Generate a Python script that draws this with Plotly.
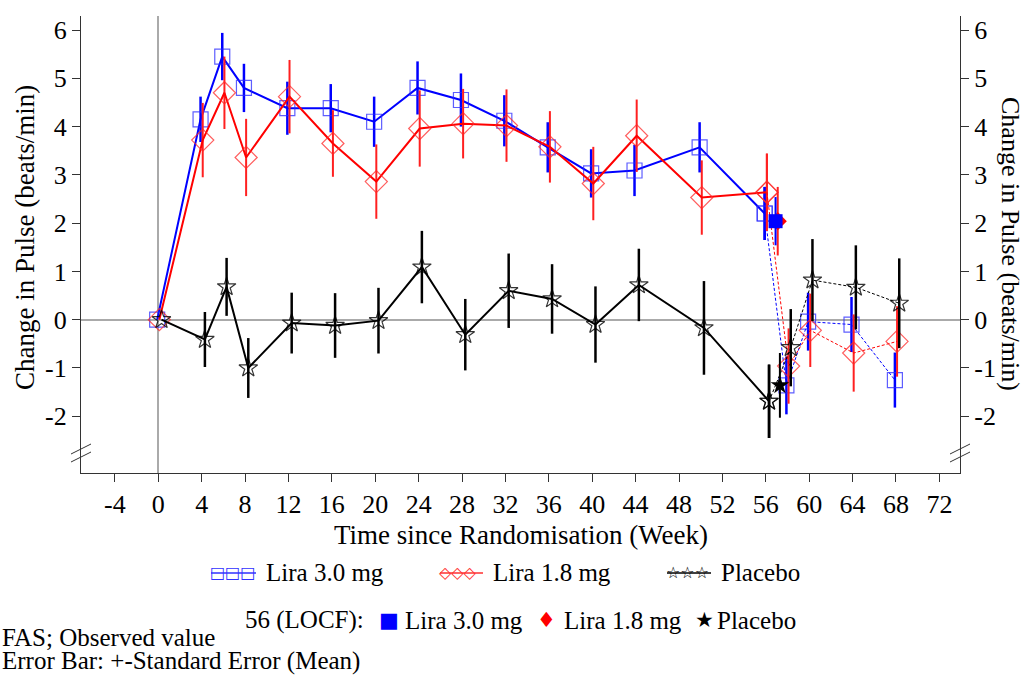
import plotly.graph_objects as go

# ---------------- data ----------------
weeks_main = [0, 4, 6, 8, 12, 16, 20, 24, 28, 32, 36, 40, 44, 50, 56]
weeks_fu = [56, 58, 60, 64, 68]
week_locf = 57

lira30 = [0, 4.15, 5.45, 4.80, 4.38, 4.38, 4.10, 4.80, 4.55, 4.12, 3.57, 3.03, 3.09, 3.57, 2.20]
lira30_se = [0, 0.47, 0.49, 0.50, 0.55, 0.50, 0.52, 0.55, 0.55, 0.53, 0.52, 0.50, 0.53, 0.52, 0.55]
lira30_fu = [2.20, -1.36, -0.04, -0.10, -1.25]
lira30_fu_se = [0.55, 0.60, 0.60, 0.57, 0.57]

lira18 = [0, 3.72, 4.70, 3.36, 4.62, 3.65, 2.86, 3.96, 4.06, 4.02, 3.58, 2.82, 3.81, 2.53, 2.64]
lira18_se = [0, 0.77, 0.75, 0.80, 0.76, 0.69, 0.77, 0.79, 0.72, 0.75, 0.74, 0.76, 0.75, 0.77, 0.80]
lira18_fu = [2.64, -0.96, -0.22, -0.69, -0.45]
lira18_fu_se = [0.80, 0.78, 0.76, 0.80, 0.73]

placebo = [0, -0.41, 0.68, -1.00, -0.07, -0.12, -0.02, 1.09, -0.31, 0.60, 0.43, -0.10, 0.72, -0.17, -1.69]
placebo_se = [0, 0.57, 0.60, 0.62, 0.63, 0.67, 0.68, 0.75, 0.74, 0.77, 0.72, 0.79, 0.75, 0.97, 0.76]
placebo_fu = [-1.69, -0.58, 0.82, 0.67, 0.34]
placebo_fu_se = [0.76, 0.80, 0.85, 0.87, 0.93]

locf_vals = [2.04, 2.04, -1.36]
locf_se = [0.50, 0.71, 0.67]

x_ticks = list(range(-4, 73, 4))
y_ticks = list(range(-2, 7))

# ---------------- style ----------------
SERIF = "Liberation Serif, Times New Roman, Times, serif"
SYM = "DejaVu Sans"
FS = 26
X_RANGE = [-7.12, 73.9]
Y_RANGE = [-3.175, 6.29]

series = [
    dict(name="Lira 3.0 mg", y=lira30, se=lira30_se, yf=lira30_fu, sef=lira30_fu_se,
         col="#0000ff", ecol="#0000ff", mcol="rgba(40,40,255,0.75)", sym="square-open", fsym="square",
         ms=15, off=-0.1, ew=2.5),
    dict(name="Lira 1.8 mg", y=lira18, se=lira18_se, yf=lira18_fu, sef=lira18_fu_se,
         col="#ff0000", ecol="#ff2020", mcol="rgba(255,40,40,0.75)", sym="diamond-open", fsym="diamond",
         ms=17, off=0.1, ew=2),
    dict(name="Placebo", y=placebo, se=placebo_se, yf=placebo_fu, sef=placebo_fu_se,
         col="#000000", ecol="#000000", mcol="rgba(0,0,0,0.8)", sym="star-open", fsym="star",
         ms=14, off=0.3, ew=2.5),
]

fig = go.Figure()

for i, s in enumerate(series):
    xm = [w + s["off"] for w in weeks_main]
    xf = [w + s["off"] for w in weeks_fu]
    fig.add_trace(go.Scatter(
        x=xm, y=s["y"], mode="lines+markers", name=s["name"], showlegend=False,
        line=dict(color=s["col"], width=2),
        marker=dict(symbol=s["sym"], size=s["ms"], color=s["mcol"], line=dict(width=1.2)),
        error_y=dict(type="data", array=s["se"], color=s["ecol"], thickness=s["ew"], width=0),
    ))
    fig.add_trace(go.Scatter(
        x=xf, y=s["yf"], mode="lines+markers", showlegend=False,
        line=dict(color=s["col"], width=1, dash="3px,2px"),
        marker=dict(symbol=s["sym"], size=s["ms"], color=s["mcol"], line=dict(width=1.2)),
        error_y=dict(type="data", array=s["sef"], color=s["ecol"], thickness=s["ew"], width=0),
    ))

# LOCF points: red first, then blue on top, then black
for i in (1, 0, 2):
    s = series[i]
    fig.add_trace(go.Scatter(
        x=[week_locf + s["off"]], y=[locf_vals[i]], mode="markers", showlegend=False,
        marker=dict(symbol=s["fsym"], size=14, color=s["col"], line=dict(width=0)),
        error_y=dict(type="data", array=[locf_se[i]], color=s["ecol"], thickness=2, width=0),
    ))

# invisible trace on the right axis so it is drawn
fig.add_trace(go.Scatter(x=[0], y=[0], yaxis="y2", mode="markers",
                         marker=dict(opacity=0), showlegend=False, hoverinfo="skip"))

L, R, T, B = 81, 960, 16, 473
W, H = R - L, B - T


def px(x):
    return (x - L) / W


def py(y):
    return (B - y) / H


axis_common = dict(ticks="outside", ticklen=8, tickwidth=1, tickcolor="#333",
                   showline=True, linecolor="#333", linewidth=1.2, showgrid=False,
                   tickfont=dict(family=SERIF, size=FS))

fig.update_layout(
    width=1026, height=675,
    margin=dict(l=L, r=1026 - R, t=T, b=675 - B),
    paper_bgcolor="white", plot_bgcolor="white",
    font=dict(family=SERIF, size=FS, color="black"),
    showlegend=False,
    xaxis=dict(range=X_RANGE, tickvals=x_ticks, ticktext=[str(t) for t in x_ticks],
               zeroline=True, zerolinecolor="#aaaaaa", zerolinewidth=1.5, **axis_common),
    yaxis=dict(range=Y_RANGE, tickvals=y_ticks, ticktext=[str(t) for t in y_ticks],
               zeroline=True, zerolinecolor="#aaaaaa", zerolinewidth=1.5, **axis_common),
    yaxis2=dict(range=Y_RANGE, tickvals=y_ticks, ticktext=[str(t) for t in y_ticks],
                overlaying="y", side="right", zeroline=False, **axis_common),
)

TS = 27
ann = []
# axis titles
ann.append(dict(text="Change in Pulse (beats/min)", x=px(25), y=py(238), xref="paper", yref="paper",
                textangle=-90, showarrow=False, font=dict(family=SERIF, size=TS),
                xanchor="center", yanchor="middle"))
ann.append(dict(text="Change in Pulse (beats/min)", x=px(1011), y=py(244), xref="paper", yref="paper",
                textangle=90, showarrow=False, font=dict(family=SERIF, size=26),
                xanchor="center", yanchor="middle"))
ann.append(dict(text="Time since Randomisation (Week)", x=px(521), y=py(535), xref="paper", yref="paper",
                showarrow=False, font=dict(family=SERIF, size=TS),
                xanchor="center", yanchor="middle"))

LS = 25
# legend row 1
row1 = 572
leg1 = [("□□□", "#3030ff", 208, "Lira 3.0 mg", 264),
        ("◇◇◇", "#ff3030", 437, "Lira 1.8 mg", 491),
        ("☆☆☆", "#000000", 664, "Placebo", 719)]
shapes = []
for sym, col, sx, label, tx in leg1:
    ann.append(dict(text=sym, x=px(sx), y=py(row1), xref="paper", yref="paper",
                    showarrow=False, font=dict(family=SYM, size=16, color=col),
                    xanchor="left", yanchor="middle"))
    ann.append(dict(text=label, x=px(tx), y=py(row1), xref="paper", yref="paper",
                    showarrow=False, font=dict(family=SERIF, size=LS),
                    xanchor="left", yanchor="middle"))
    shapes.append(dict(type="line", xref="paper", yref="paper",
                       x0=px(sx + 3), x1=px(tx - 8), y0=py(row1 + 1), y1=py(row1 + 1),
                       line=dict(color=col, width=1.5)))

# legend row 2
row2 = 620
ann.append(dict(text="56 (LOCF):", x=px(243), y=py(row2), xref="paper", yref="paper",
                showarrow=False, font=dict(family=SERIF, size=LS), xanchor="left", yanchor="middle"))
leg2 = [("■", "#0000ff", 377, "Lira 3.0 mg", 403),
        ("♦", "#ff0000", 535, "Lira 1.8 mg", 562),
        ("★", "#000000", 693, "Placebo", 715)]
for sym, col, sx, label, tx in leg2:
    ann.append(dict(text=sym, x=px(sx), y=py(row2), xref="paper", yref="paper",
                    showarrow=False, font=dict(family=SYM, size=21, color=col),
                    xanchor="left", yanchor="middle"))
    ann.append(dict(text=label, x=px(tx), y=py(row2), xref="paper", yref="paper",
                    showarrow=False, font=dict(family=SERIF, size=LS),
                    xanchor="left", yanchor="middle"))

# footnotes
ann.append(dict(text="FAS; Observed value", x=px(0), y=py(637), xref="paper", yref="paper",
                showarrow=False, font=dict(family=SERIF, size=25), xanchor="left", yanchor="middle"))
ann.append(dict(text="Error Bar: +-Standard Error (Mean)", x=px(0), y=py(661), xref="paper", yref="paper",
                showarrow=False, font=dict(family=SERIF, size=25), xanchor="left", yanchor="middle"))

# axis break marks
for ax in (L, R):
    for dy in (0, 8):
        shapes.append(dict(type="line", xref="paper", yref="paper",
                           x0=px(ax - 10), x1=px(ax + 10), y0=py(462 - dy), y1=py(452 - dy),
                           line=dict(color="#333", width=1)))

fig.update_layout(annotations=ann, shapes=shapes)

fig.write_html("out.html", config={"displayModeBar": False},
               post_script="document.body.style.margin='0';document.body.style.padding='0';")
